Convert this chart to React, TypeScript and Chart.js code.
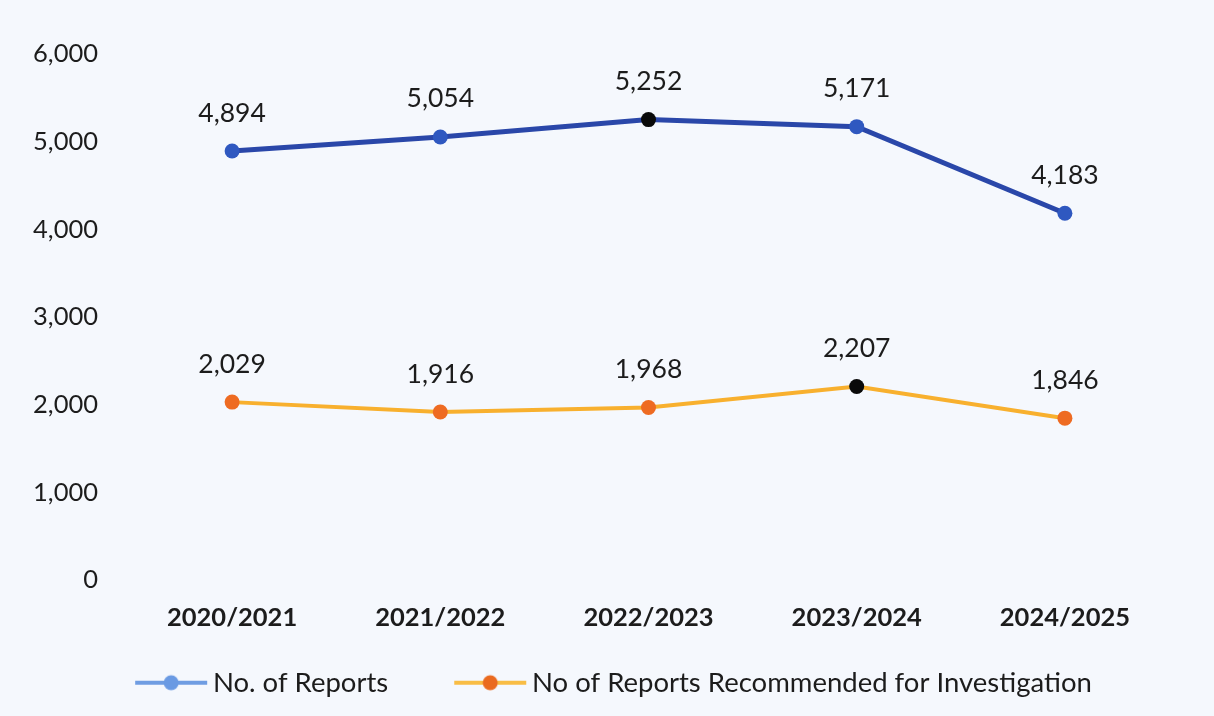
import React, { useEffect, useRef } from "react";
import { Chart, registerables } from "chart.js";

Chart.register(...registerables);

const categories = ["2020/2021", "2021/2022", "2022/2023", "2023/2024", "2024/2025"];
const reports = [4894, 5054, 5252, 5171, 4183];
const recommended = [2029, 1916, 1968, 2207, 1846];
const seriesNames = ["No. of Reports", "No of Reports Recommended for Investigation"];
const yTicks = [0, 1000, 2000, 3000, 4000, 5000, 6000];

const FONT = "Lato, 'Open Sans', sans-serif";
const fmt = (v: number) => v.toLocaleString("en-US");

function maxIndex(arr: number[]) {
  let m = 0;
  arr.forEach((v, i) => {
    if (v > arr[m]) m = i;
  });
  return m;
}

function legendSwatch(lineColor: string, dotColor: string) {
  const c = document.createElement("canvas");
  c.width = 150;
  c.height = 18;
  const ctx = c.getContext("2d")!;
  ctx.strokeStyle = lineColor;
  ctx.lineWidth = 4;
  ctx.beginPath();
  ctx.moveTo(72, 9);
  ctx.lineTo(144, 9);
  ctx.stroke();
  ctx.fillStyle = dotColor;
  ctx.beginPath();
  ctx.arc(108, 9, 7.5, 0, Math.PI * 2);
  ctx.fill();
  return c;
}

const dataLabels = {
  id: "dataLabels",
  afterDatasetsDraw(chart: any) {
    const ctx = chart.ctx;
    ctx.save();
    ctx.font = `26.5px ${FONT}`;
    ctx.fillStyle = "#1c1c1c";
    ctx.textAlign = "center";
    ctx.textBaseline = "middle";
    chart.data.datasets.forEach((ds: any, di: number) => {
      const meta = chart.getDatasetMeta(di);
      meta.data.forEach((el: any, i: number) => {
        ctx.fillText(fmt(ds.data[i]), el.x, el.y - 38);
      });
    });
    ctx.restore();
  },
};

export default function App() {
  const ref = useRef<HTMLCanvasElement>(null);
  useEffect(() => {
    const swatches = [legendSwatch("#6f9de2", "#6a9ae3"), legendSwatch("#f8bd45", "#ea6a1f")];
    const hi1 = maxIndex(reports);
    const hi2 = maxIndex(recommended);
    const chart = new Chart(ref.current!, {
      type: "line",
      data: {
        labels: categories,
        datasets: [
          {
            label: seriesNames[0],
            data: reports,
            borderColor: "#2a47a9",
            borderWidth: 5,
            pointRadius: 7.5,
            pointBorderWidth: 0,
            pointBackgroundColor: reports.map((_, i) => (i === hi1 ? "#0a0a0a" : "#2f58c0")),
          },
          {
            label: seriesNames[1],
            data: recommended,
            borderColor: "#f8b02e",
            borderWidth: 4,
            pointRadius: 7.5,
            pointBorderWidth: 0,
            pointBackgroundColor: recommended.map((_, i) => (i === hi2 ? "#0a0a0a" : "#ee6b22")),
          },
        ],
      },
      options: {
        responsive: false,
        animation: false,
        layout: { padding: { left: 0, right: 45, top: 54, bottom: 9.5 } },
        elements: { point: { pointStyle: "circle" } },
        plugins: {
          tooltip: { enabled: false },
          legend: {
            position: "bottom",
            labels: {
              usePointStyle: true,
              pointStyleWidth: 122,
              padding: 8,
              color: "#1c1c1c",
              font: { family: FONT, size: 27.5 },
              generateLabels: (chart: any) =>
                chart.data.datasets.map((ds: any, i: number) => ({
                  text: ds.label,
                  pointStyle: swatches[i],
                  fillStyle: "transparent",
                  strokeStyle: "transparent",
                  lineWidth: 0,
                  datasetIndex: i,
                  fontColor: "#1c1c1c",
                })),
            },
          },
        },
        scales: {
          x: {
            offset: true,
            grid: { display: false, drawTicks: false },
            border: { display: false },
            ticks: {
              padding: 22,
              color: "#1c1c1c",
              font: { family: FONT, size: 25.5, weight: "bold" },
            },
            afterFit: (s: any) => {
              s.height = 81;
            },
          },
          y: {
            min: 0,
            max: 6000,
            grid: { display: false, drawTicks: false },
            border: { display: false },
            afterBuildTicks: (s: any) => {
              s.ticks = yTicks.map((v) => ({ value: v }));
            },
            ticks: {
              padding: 30,
              color: "#1c1c1c",
              font: { family: FONT, size: 25.5 },
              callback: (v: any) => fmt(Number(v)),
            },
            afterFit: (s: any) => {
              s.width = 128;
            },
          },
        },
      },
      plugins: [dataLabels],
    } as any);
    return () => chart.destroy();
  }, []);
  return (
    <div style={{ position: "fixed", left: 0, top: 0, width: 1214, height: 716, background: "#f5f8fd" }}>
      <canvas ref={ref} width={1214} height={716} />
    </div>
  );
}
